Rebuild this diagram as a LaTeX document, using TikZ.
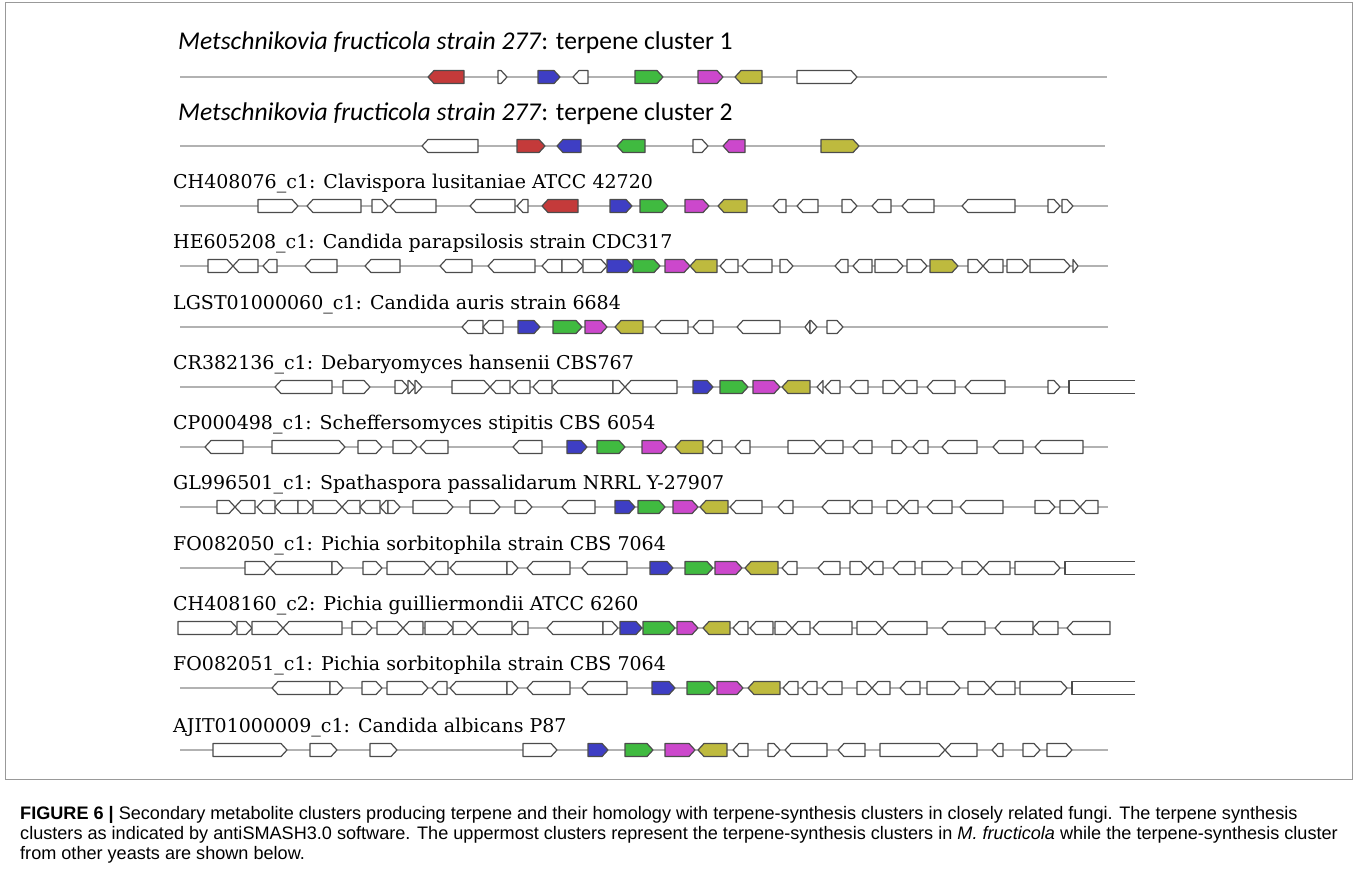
\documentclass[tikz,border=0pt]{standalone}
\usepackage{xcolor}
\usepackage{fontspec}
\setmainfont{Liberation Sans}
\newfontfamily\clusterfont{Carlito}
\newfontfamily\contigfont{DejaVu Serif}

\definecolor{gred}{RGB}{196,58,58}
\definecolor{gblue}{RGB}{62,62,196}
\definecolor{ggreen}{RGB}{64,186,64}
\definecolor{gmag}{RGB}{204,72,204}
\definecolor{golive}{RGB}{190,186,62}
\colorlet{w}{white}

% one gene: start, end, direction (r/l/o), fill, row y
\newcommand{\gene}[5]{%
  \pgfmathsetmacro\tipl{min(6,#2-#1)}%
  \if#3r
    \draw[gene,fill=#4] (#1,#5-6.5) -- ({#2-\tipl},#5-6.5) -- (#2,#5) -- ({#2-\tipl},#5+6.5) -- (#1,#5+6.5) -- cycle;
  \else\if#3l
    \draw[gene,fill=#4] (#2,#5-6.5) -- ({#1+\tipl},#5-6.5) -- (#1,#5) -- ({#1+\tipl},#5+6.5) -- (#2,#5+6.5) -- cycle;
  \else
    \fill[white] (#1,#5-6.5) rectangle (#2,#5+6.5);
    \draw[gene] (#2,#5-6.5) -- (#1,#5-6.5) -- (#1,#5+6.5) -- (#2,#5+6.5);
  \fi\fi}
% one row: y, end of backbone, genes
\newcommand{\generow}[3]{%
  \draw[backbone] (180,#1) -- (#2,#1);
  \foreach \a/\b/\d/\c in {#3} {\gene{\a}{\b}{\d}{\c}{#1}}}

\tikzset{
  gene/.style={draw=black!70,line width=1.2pt,line join=round},
  backbone/.style={draw=black!30,line width=1.6pt},
  cluster/.style={anchor=base west,inner sep=0pt,font=\clusterfont\fontsize{25.6}{30}\selectfont},
  contig/.style={anchor=base west,inner sep=0pt,font=\contigfont\fontsize{19}{22}\selectfont},
  caption/.style={anchor=base west,inner sep=0pt,font=\fontsize{18.1}{22}\selectfont}
}

\begin{document}
\begin{tikzpicture}[x=1pt,y=-1pt]
\useasboundingbox (0,0) rectangle (1357,887);
\draw[black!40,line width=0.8pt] (5,2) rectangle (1352,779);

\node[cluster] (t1) at (178,49) {\textit{Metschnikovia fructicola strain 277}: terpene cluster 1};
\generow{77}{1107}{428/464/l/gred, 498/507/r/w, 538/560/r/gblue, 573/588/l/w, 635/663/r/ggreen, 698/723/r/gmag, 735/762/l/golive, 797/857/r/w}

\node[cluster] (t2) at (178,120) {\textit{Metschnikovia fructicola strain 277}: terpene cluster 2};
\generow{146}{1105}{422/478/l/w, 517/545/r/gred, 557/581/l/gblue, 617/645/l/ggreen, 693/708/r/w, 723/745/l/gmag, 821/859/r/golive}

\node[contig] (t3) at (173,188) {CH408076\_c1: Clavispora lusitaniae ATCC 42720};
\generow{206}{1108}{258/298/r/w, 307/361/l/w, 372/388/r/w, 390/436/l/w, 470/515/l/w, 517/528/l/w, 542/578/l/gred, 610/632/r/gblue, 640/668/r/ggreen, 685/709/r/gmag, 718/747/l/golive, 773/786/l/w, 797/818/l/w, 842/857/r/w, 872/891/l/w, 902/934/l/w, 962/1015/l/w, 1048/1060/r/w, 1062/1073/r/w}

\node[contig] (t4) at (173,248) {HE605208\_c1: Candida parapsilosis strain CDC317};
\generow{266}{1108}{208/233/r/w, 233/258/l/w, 263/277/l/w, 305/337/l/w, 365/400/l/w, 440/472/l/w, 488/535/l/w, 542/562/l/w, 562/583/r/w, 583/607/r/w, 607/633/r/gblue, 633/660/r/ggreen, 665/690/r/gmag, 690/717/l/golive, 720/738/l/w, 742/772/l/w, 780/793/r/w, 835/848/l/w, 853/872/l/w, 875/903/r/w, 907/927/r/w, 930/958/r/golive, 968/983/r/w, 983/1003/l/w, 1007/1028/r/w, 1030/1070/r/w, 1073/1078/r/w}

\node[contig] (t5) at (173,309) {LGST01000060\_c1: Candida auris strain 6684};
\generow{327}{1108}{462/483/l/w, 483/503/l/w, 518/540/r/gblue, 553/582/r/ggreen, 585/607/r/gmag, 615/643/l/golive, 655/688/l/w, 693/713/l/w, 737/780/l/w, 805/810/l/w, 810/817/r/w, 827/843/r/w}

\node[contig] (t6) at (173,369) {CR382136\_c1: Debaryomyces hansenii CBS767};
\generow{387}{1135}{275/332/l/w, 343/370/r/w, 395/408/r/w, 408/415/r/w, 415/422/r/w, 452/490/r/w, 490/510/l/w, 512/530/l/w, 533/552/l/w, 552/613/l/w, 613/625/r/w, 625/677/l/w, 693/713/r/gblue, 720/748/r/ggreen, 753/780/r/gmag, 782/810/l/golive, 817/823/l/w, 825/840/l/w, 850/868/l/w, 883/900/r/w, 900/917/l/w, 927/955/l/w, 965/1005/l/w, 1048/1060/r/w, 1069/1135/o/w}

\node[contig] (t7) at (173,429) {CP000498\_c1: Scheffersomyces stipitis CBS 6054};
\generow{447}{1108}{205/243/l/w, 272/345/r/w, 358/382/r/w, 393/417/r/w, 420/448/l/w, 513/542/l/w, 567/587/r/gblue, 597/625/r/ggreen, 642/667/r/gmag, 675/703/l/golive, 707/722/l/w, 735/750/l/w, 788/820/r/w, 820/843/l/w, 853/872/l/w, 892/907/r/w, 913/928/l/w, 942/977/l/w, 993/1023/l/w, 1035/1083/l/w}

\node[contig] (t8) at (173,489) {GL996501\_c1: Spathaspora passalidarum NRRL Y-27907};
\generow{507}{1108}{217/235/r/w, 235/255/l/w, 257/275/l/w, 275/298/l/w, 298/313/r/w, 313/342/r/w, 342/360/l/w, 360/380/l/w, 380/388/l/w, 388/400/r/w, 413/453/r/w, 470/500/r/w, 515/532/r/w, 562/595/l/w, 615/635/r/gblue, 638/665/r/ggreen, 673/698/r/gmag, 700/728/l/golive, 730/762/l/w, 778/793/l/w, 822/850/l/w, 852/872/l/w, 887/903/r/w, 903/918/l/w, 927/952/l/w, 960/1003/l/w, 1035/1055/r/w, 1060/1080/r/w, 1080/1098/l/w}

\node[contig] (t9) at (173,550) {FO082050\_c1: Pichia sorbitophila strain CBS 7064};
\generow{568}{1135}{245/270/r/w, 270/332/l/w, 332/343/r/w, 363/382/r/w, 387/430/r/w, 430/448/l/w, 450/507/l/w, 507/518/r/w, 527/570/l/w, 582/627/l/w, 650/673/r/gblue, 685/713/r/ggreen, 715/742/r/gmag, 745/778/l/golive, 782/797/l/w, 818/840/l/w, 850/867/r/w, 868/883/l/w, 893/915/l/w, 922/953/r/w, 962/983/r/w, 983/1010/l/w, 1015/1060/r/w, 1065/1135/o/w}

\node[contig] (t10) at (173,610) {CH408160\_c2: Pichia guilliermondii ATCC 6260};
\generow{628}{1110}{178/237/r/w, 237/252/r/w, 252/283/r/w, 283/342/l/w, 352/372/r/w, 377/403/r/w, 403/423/l/w, 425/453/r/w, 453/472/r/w, 472/512/l/w, 512/528/l/w, 547/603/l/w, 603/618/r/w, 620/642/r/gblue, 643/675/r/ggreen, 677/698/r/gmag, 703/730/l/golive, 733/748/l/w, 750/773/l/w, 775/792/r/w, 792/810/l/w, 813/852/l/w, 857/882/r/w, 882/927/l/w, 942/985/l/w, 995/1033/l/w, 1033/1058/l/w, 1067/1110/l/w}

\node[contig] (t11) at (173,670) {FO082051\_c1: Pichia sorbitophila strain CBS 7064};
\generow{688}{1135}{272/330/l/w, 330/343/r/w, 362/382/r/w, 387/428/r/w, 432/447/l/w, 450/507/l/w, 507/518/r/w, 527/570/l/w, 582/627/l/w, 652/675/r/gblue, 687/715/r/ggreen, 717/743/r/gmag, 748/780/l/golive, 783/798/l/w, 802/817/l/w, 822/842/l/w, 857/872/r/w, 872/890/l/w, 900/920/l/w, 927/960/r/w, 968/990/r/w, 990/1015/l/w, 1020/1067/r/w, 1072/1135/o/w}

\node[contig] (t12) at (173,732) {AJIT01000009\_c1: Candida albicans P87};
\generow{750}{1108}{213/287/r/w, 310/337/r/w, 370/397/r/w, 523/557/r/w, 588/608/r/gblue, 625/653/r/ggreen, 665/695/r/gmag, 698/727/l/golive, 733/748/l/w, 768/780/r/w, 785/827/l/w, 838/865/l/w, 880/945/r/w, 945/977/l/w, 992/1003/l/w, 1023/1040/r/w, 1047/1072/r/w}

\node[caption] (cap1) at (20,819) {\textbf{FIGURE 6 |} Secondary metabolite clusters producing terpene and their homology with terpene-synthesis clusters in closely related fungi. The terpene synthesis};
\node[caption] (cap2) at (20,839) {clusters as indicated by antiSMASH3.0 software. The uppermost clusters represent the terpene-synthesis clusters in \textit{M. fructicola} while the terpene-synthesis cluster};
\node[caption] (cap3) at (20,859) {from other yeasts are shown below.};
\end{tikzpicture}
\end{document}
